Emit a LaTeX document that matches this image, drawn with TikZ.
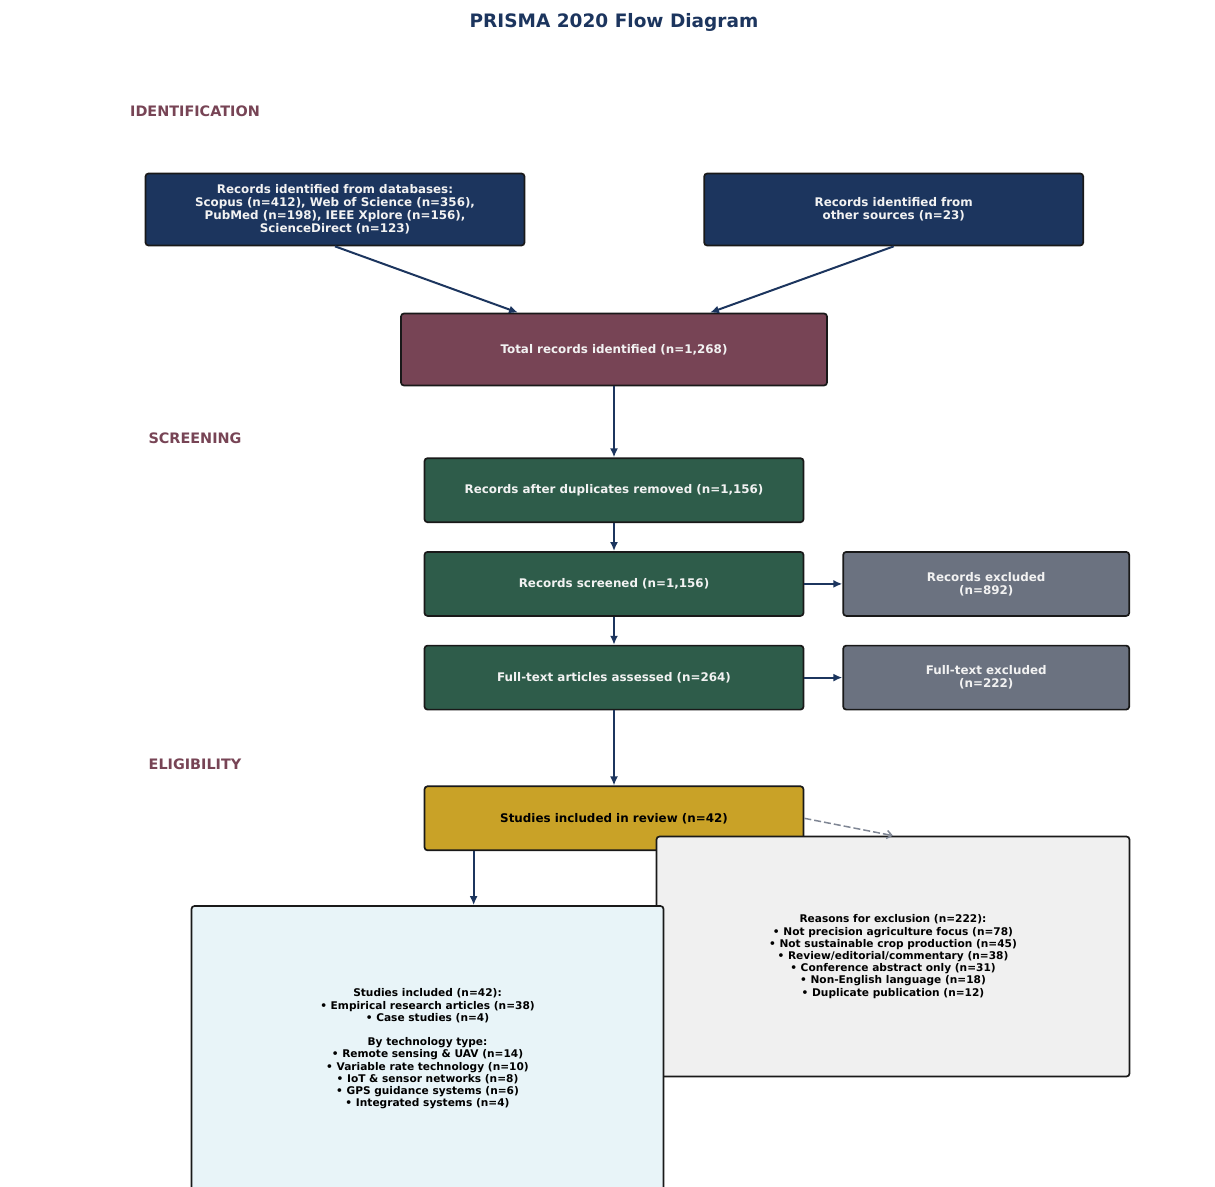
\documentclass[tikz,border=0pt]{standalone}
\usepackage{fontspec}
\setmainfont{DejaVu Sans}
\usetikzlibrary{positioning,arrows.meta,calc}
\tikzset{>={Latex[length=9pt,width=8pt]}}
\definecolor{navy}{HTML}{1C355E}
\definecolor{wine}{HTML}{774455}
\definecolor{pine}{HTML}{2E5C4A}
\definecolor{slate}{HTML}{6B7280}
\definecolor{gold}{HTML}{C9A227}
\definecolor{mist}{HTML}{F0F0F0}
\definecolor{ice}{HTML}{E8F4F8}
\definecolor{dashgrey}{HTML}{7F8694}

\begin{document}
\begin{tikzpicture}[x=1pt, y=-1pt, node distance=28pt,
    box/.style={draw=black!90, line width=1.7pt, rounded corners=3pt, inner sep=0pt,
        align=center, text=white!95!black, font=\bfseries\fontsize{11.9}{13}\selectfont},
    idbox/.style={box, fill=navy, minimum width=379pt, minimum height=72pt},
    totalbox/.style={box, fill=wine, minimum width=426pt, minimum height=72pt},
    greenbox/.style={box, fill=pine, minimum width=379pt, minimum height=64pt},
    greybox/.style={box, fill=slate, minimum width=286pt, minimum height=64pt},
    goldbox/.style={box, fill=gold, text=black, minimum width=379pt, minimum height=64pt},
    listbox/.style={box, text=black, font=\bfseries\fontsize{10.6}{12.2}\selectfont},
    stage/.style={text=wine, font=\bfseries\fontsize{14.4}{16}\selectfont},
    flow/.style={->, color=navy, line width=2pt},
    exclflow/.style={-{Straight Barb[length=5pt,width=8pt]}, color=dashgrey, line width=1.5pt, dash pattern=on 7pt off 3pt}]
    \useasboundingbox (0,0) rectangle (1215,1186);
    \clip (0,0) rectangle (1215,1186);
    \node[text=navy, font=\bfseries\fontsize{18.5}{20}\selectfont] (title) at (614,22) {PRISMA 2020 Flow Diagram};
    % phases
    \node[stage] (ident) at (195,111) {IDENTIFICATION};
    \node[stage] (screen) at (195,438) {SCREENING};
    \node[stage] (elig) at (195,764) {ELIGIBILITY};
    % boxes
    \node[idbox] (db) at (335,209.5) {Records identified from databases:\\Scopus (n=412), Web of Science (n=356),\\PubMed (n=198), IEEE Xplore (n=156),\\ScienceDirect (n=123)};
    \node[idbox] (other) [right=178pt of db] {Records identified from\\other sources (n=23)};
    \node[totalbox] (total) at (614,349.5) {Total records identified (n=1,268)};
    \node[greenbox] (dedup) [below=71pt of total] {Records after duplicates removed (n=1,156)};
    \node[greenbox] (screened) [below=of dedup] {Records screened (n=1,156)};
    \node[greybox] (excl) [right=38pt of screened] {Records excluded\\(n=892)};
    \node[greenbox] (fulltext) [below=of screened] {Full-text articles assessed (n=264)};
    \node[greybox] (ftexcl) [right=38pt of fulltext] {Full-text excluded\\(n=222)};
    \node[goldbox] (included) [below=75pt of fulltext] {Studies included in review (n=42)};
    \node[listbox, fill=mist, minimum width=473pt, minimum height=240pt] (reasons) at (893,956.5) {Reasons for exclusion (n=222):\\%
        • Not precision agriculture focus (n=78)\\• Not sustainable crop production (n=45)\\%
        • Review/editorial/commentary (n=38)\\• Conference abstract only (n=31)\\%
        • Non-English language (n=18)\\• Duplicate publication (n=12)};
    \node[listbox, fill=ice, minimum width=472pt, minimum height=286pt] (studies) at (427.5,1049) {Studies included (n=42):\\%
        • Empirical research articles (n=38)\\• Case studies (n=4)\\[12.2pt]%
        By technology type:\\• Remote sensing \& UAV (n=14)\\• Variable rate technology (n=10)\\%
        • IoT \& sensor networks (n=8)\\• GPS guidance systems (n=6)\\• Integrated systems (n=4)};
    \draw[flow] (db.south) -- ([xshift=-96pt]total.north);
    \draw[flow] (other.south) -- ([xshift=96pt]total.north);
    \draw[flow] (total) -- (dedup);
    \draw[flow] (dedup) -- (screened);
    \draw[flow] (screened) -- (excl);
    \draw[flow] (screened) -- (fulltext);
    \draw[flow] (fulltext) -- (ftexcl);
    \draw[flow] (fulltext) -- (included);
    \draw[flow] ([xshift=50pt]included.south west) -- ([xshift=50pt]included.south west |- studies.north);
    \draw[exclflow] (included.east) -- (reasons.north);
\end{tikzpicture}
\end{document}
